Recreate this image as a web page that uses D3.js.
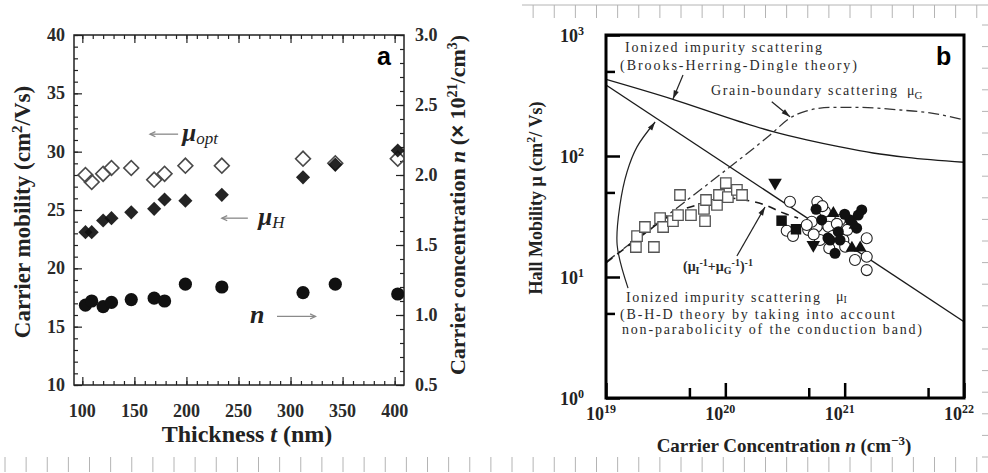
<!DOCTYPE html>
<html>
<head>
<meta charset="utf-8">
<script src="https://cdn.jsdelivr.net/npm/d3@7"></script>
<style>
body { margin: 0; background: #fff; }
svg { display: block; }
</style>
</head>
<body>
<script>
// ---- panel a : thickness series ----
const thickness = [103, 109, 120, 128, 147, 169, 179, 199, 234, 312, 343, 403];
const muOpt    = [28.0, 27.4, 28.1, 28.6, 28.6, 27.6, 28.1, 28.8, 28.8, 29.4, 29.0, 29.4];
const muH      = [23.1, 23.1, 24.1, 24.3, 24.8, 25.1, 25.9, 25.8, 26.3, 27.8, 28.9, 30.1];
const carrierN = [1.07, 1.10, 1.06, 1.09, 1.11, 1.12, 1.10, 1.22, 1.20, 1.16, 1.22, 1.15];
const thickTicks = [100, 150, 200, 250, 300, 350, 400];
const mobTicks = [10, 15, 20, 25, 30, 35, 40];
const concTicks = [0.5, 1.0, 1.5, 2.0, 2.5, 3.0];

// ---- panel b : [n (cm^-3), mobility] ----
const decadesX = [1e19, 1e20, 1e21, 1e22];
const decadesY = [1, 10, 100, 1000];
const bhdCurve = [[1e19, 430], [3.64e19, 294], [1.33e20, 192], [2.51e20, 159], [4.81e20, 136],
                  [9.15e20, 119], [1.73e21, 106], [3.31e21, 97.5], [1e22, 88.7]];
const impurityLine = [[1e19, 386], [1e22, 4.27]];
const grainCurve = [[1e19, 13.3], [3.64e19, 35.1], [1.09e20, 81.1], [2.37e20, 149], [3.48e20, 206],
                    [4.74e20, 235], [7.54e20, 252], [1.35e21, 252], [2.91e21, 240], [5.19e21, 227], [1e22, 199]];
const combinedCurve = [[1e19, 13.1], [1.93e19, 21.4], [3.64e19, 33.2], [6.13e19, 40.1], [1.03e20, 45.0],
                       [1.46e20, 43.3], [2.15e20, 39.4], [2.93e20, 34.4], [4.07e20, 30.7]];
const squaresOpen = [[1.78e19, 17.7], [2.52e19, 17.7], [1.82e19, 21.8], [2.12e19, 25.9], [2.84e19, 30.7],
                     [3.01e19, 25.9], [3.64e19, 29.0], [4.01e19, 32.5], [4.17e19, 47.6], [5.15e19, 32.5],
                     [6.62e19, 36.5], [6.76e19, 29.0], [6.89e19, 43.3], [8.51e19, 39.4], [8.85e19, 47.6],
                     [1.01e20, 59.8], [1.05e20, 45.8], [1.25e20, 52.4], [1.38e20, 47.6]];
const circlesOpen = [[3.48e20, 41.9], [3.27e20, 24.1], [5.90e20, 41.9], [6.84e20, 34.7], [4.95e20, 24.5],
                     [5.83e20, 26.0], [7.30e20, 26.0], [5.30e20, 28.6], [7.43e20, 17.3], [9.14e20, 29.6],
                     [9.75e20, 20.2], [1.01e21, 17.8], [1.53e21, 20.9], [1.22e21, 13.8], [1.53e21, 14.7],
                     [1.53e21, 11.4], [4.81e20, 26.9], [6.21e20, 20.2], [7.94e20, 21.8], [3.69e20, 21.8],
                     [6.5e20, 38.5], [1.05e21, 24.5], [8.6e20, 27.5], [5.5e20, 22.5]];
const circlesFilled = [[5.76e20, 36.3], [6.42e20, 29.6], [7.54e20, 20.2], [8.85e20, 23.7], [1.11e21, 29.6],
                       [1.39e21, 35.8], [1.30e21, 32.5], [8.30e20, 15.7], [1.26e21, 25.3], [9.14e20, 20.2],
                       [7.24e20, 21.0], [1.0e21, 33.0]];
const trianglesUp = [[8.04e20, 33.6], [1.22e21, 26.9], [1.15e21, 17.3], [1.35e21, 17.4]];
const trianglesDown = [[2.61e20, 60.2], [5.46e20, 18.4]];
const squaresFilled = [[2.96e20, 29.2], [3.91e20, 24.8]];

const width = 988;
const height = 473;
const serif = "'Liberation Serif', 'Times New Roman', serif";

const svg = d3.select("body").append("svg")
    .attr("width", width)
    .attr("height", height)
    .style("background", "#fff");

// ruler marks from the screenshot edges
const ruler = svg.append("g").attr("stroke", "#b4b4b4").attr("stroke-width", 1);
ruler.selectAll(".rb").data(d3.range(5, width, 21.125)).join("line")
    .attr("x1", d => d).attr("x2", d => d).attr("y1", 457).attr("y2", 472);
ruler.append("line").attr("x1", 522).attr("x2", width).attr("y1", 5).attr("y2", 5);
ruler.selectAll(".rt").data(d3.range(5 + 21.125 * 25, width, 21.125)).join("line")
    .attr("x1", d => d).attr("x2", d => d).attr("y1", 5).attr("y2", 18);
ruler.selectAll(".rr").data(d3.range(25, 465, 21.6)).join("line")
    .attr("x1", 982).attr("x2", width).attr("y1", d => d).attr("y2", d => d);

// ================= panel a =================
const xA = d3.scaleLinear().domain([92, 409]).range([74, 404]);
const yA = d3.scaleLinear().domain([10, 40]).range([385, 35]);
const yA2 = d3.scaleLinear().domain([0.5, 3.0]).range([385, 35]);

const ga = svg.append("g");

function inward(g, axis, tr) {
    g.append("g").attr("transform", tr).call(axis)
        .call(s => s.select(".domain").remove())
        .call(s => s.selectAll("line").attr("stroke", "#222").attr("stroke-width", 1.2));
}
// minor + major ticks, all sides, pointing inside
inward(ga, d3.axisBottom(xA).tickValues(d3.range(100, 401, 10)).tickSize(-4).tickFormat(""), "translate(0,385)");
inward(ga, d3.axisBottom(xA).tickValues(thickTicks).tickSize(-8).tickFormat(""), "translate(0,385)");
inward(ga, d3.axisTop(xA).tickValues(d3.range(100, 401, 10)).tickSize(-4).tickFormat(""), "translate(0,35)");
inward(ga, d3.axisTop(xA).tickValues(thickTicks).tickSize(-8).tickFormat(""), "translate(0,35)");
inward(ga, d3.axisLeft(yA).tickValues(d3.range(10, 40.1, 1)).tickSize(-4).tickFormat(""), "translate(74,0)");
inward(ga, d3.axisLeft(yA).tickValues(mobTicks).tickSize(-8).tickFormat(""), "translate(74,0)");
inward(ga, d3.axisRight(yA2).tickValues(d3.range(0.5, 3.01, 0.1)).tickSize(-4).tickFormat(""), "translate(404,0)");
inward(ga, d3.axisRight(yA2).tickValues(concTicks).tickSize(-8).tickFormat(""), "translate(404,0)");

ga.append("rect").attr("x", 74).attr("y", 35).attr("width", 330).attr("height", 350)
    .attr("fill", "none").attr("stroke", "#222").attr("stroke-width", 1.5);

// tick labels
const labA = ga.append("g").attr("font-family", serif).attr("font-weight", "bold")
    .attr("font-size", 18).attr("fill", "#2a2a2a");
labA.selectAll(".tx").data(thickTicks).join("text")
    .attr("x", d => xA(d)).attr("y", 417).attr("text-anchor", "middle").text(d => d);
labA.selectAll(".ty").data(mobTicks).join("text")
    .attr("x", 65).attr("y", d => yA(d) + 6).attr("text-anchor", "end").text(d => d);
labA.selectAll(".ty2").data(concTicks).join("text")
    .attr("x", 415).attr("y", d => yA2(d) + 6).text(d => d.toFixed(1));

// axis titles
const tA = ga.append("g").attr("font-family", serif).attr("font-weight", "bold").attr("fill", "#222");
const tx = tA.append("text").attr("x", 247).attr("y", 442).attr("text-anchor", "middle").attr("font-size", 24);
tx.append("tspan").text("Thickness ");
tx.append("tspan").attr("font-style", "italic").text("t");
tx.append("tspan").text(" (nm)");

const tyl = tA.append("text").attr("transform", "translate(30,212) rotate(-90)")
    .attr("text-anchor", "middle").attr("font-size", 23);
tyl.append("tspan").text("Carrier mobility (cm");
tyl.append("tspan").attr("dy", -8).attr("font-size", 15).text("2");
tyl.append("tspan").attr("dy", 8).text("/Vs)");

const tyr = tA.append("text").attr("transform", "translate(465,205) rotate(-90)")
    .attr("text-anchor", "middle").attr("font-size", 22);
tyr.append("tspan").text("Carrier concentration ");
tyr.append("tspan").attr("font-style", "italic").text("n");
tyr.append("tspan").text("  (");
tyr.append("tspan").attr("font-family", "'Liberation Sans', Arial, sans-serif").text("×");
tyr.append("tspan").text(" 10");
tyr.append("tspan").attr("dy", -8).attr("font-size", 14).text("21");
tyr.append("tspan").attr("dy", 8).text("/cm");
tyr.append("tspan").attr("dy", -8).attr("font-size", 14).text("3");
tyr.append("tspan").attr("dy", 8).text(")");

// markers
svg.append("clipPath").attr("id", "clipA").append("rect")
    .attr("x", 74).attr("y", 35).attr("width", 330).attr("height", 350);
const mk = ga.append("g").attr("clip-path", "url(#clipA)");
const diamond = d3.symbol().type(d3.symbolSquare).size(110);

mk.selectAll(".opt").data(thickness).join("path")
    .attr("d", diamond)
    .attr("transform", (d, i) => "translate(" + xA(d) + "," + yA(muOpt[i]) + ") rotate(45)")
    .attr("fill", "#fff").attr("fill-opacity", 0).attr("stroke", "#4a4a4a").attr("stroke-width", 1.6);
mk.selectAll(".mh").data(thickness).join("path")
    .attr("d", d3.symbol().type(d3.symbolSquare).size(100))
    .attr("transform", (d, i) => "translate(" + xA(d) + "," + yA(muH[i]) + ") rotate(45)")
    .attr("fill", "#111").attr("fill-opacity", 0.92);
mk.selectAll(".nc").data(thickness).join("circle")
    .attr("cx", d => xA(d)).attr("cy", (d, i) => yA2(carrierN[i])).attr("r", 6.6)
    .attr("fill", "#111");

// annotations panel a
function arrowA(g, x1, y1, x2, y2) {
    // arrow drawn from (x1,y1) to head at (x2,y2)
    const a = Math.atan2(y2 - y1, x2 - x1);
    g.append("line").attr("x1", x1).attr("y1", y1).attr("x2", x2).attr("y2", y2);
    g.append("path").attr("fill", "none")
        .attr("d", "M" + (x2 - 6 * Math.cos(a - 0.45)) + "," + (y2 - 6 * Math.sin(a - 0.45)) +
                   "L" + x2 + "," + y2 +
                   "L" + (x2 - 6 * Math.cos(a + 0.45)) + "," + (y2 - 6 * Math.sin(a + 0.45)));
}
const ar = ga.append("g").attr("stroke", "#8a8a8a").attr("stroke-width", 1.3);
arrowA(ar, xA(192), yA(31.5), xA(165), yA(31.5));
arrowA(ar, xA(259), yA(24.3), xA(234), yA(24.3));
arrowA(ar, xA(287), yA2(0.99), xA(324), yA2(0.99));

const ann = ga.append("g").attr("font-family", serif).attr("font-weight", "bold")
    .attr("font-style", "italic").attr("fill", "#222");
const t1 = ann.append("text").attr("x", xA(196)).attr("y", yA(30.9)).attr("font-size", 25);
t1.append("tspan").text("μ");
t1.append("tspan").attr("font-size", 17).attr("dy", 3).attr("font-weight", "normal").text("opt");
const t2 = ann.append("text").attr("x", xA(269)).attr("y", yA(23.7)).attr("font-size", 25);
t2.append("tspan").text("μ");
t2.append("tspan").attr("font-size", 17).attr("dy", 3).attr("font-weight", "normal").text("H");
ann.append("text").attr("x", xA(261)).attr("y", yA2(0.94)).attr("font-size", 26).text("n");

ga.append("text").attr("x", 377).attr("y", 65)
    .attr("font-family", "'Liberation Sans', Arial, sans-serif").attr("font-weight", "bold")
    .attr("font-size", 25).text("a");

// ================= panel b =================
const xB = d3.scaleLog().domain([1e19, 1e22]).range([606, 964]);
const yB = d3.scaleLog().domain([1, 1000]).range([398, 35]);
const gb = svg.append("g");

// ticks at 1 and 5 per decade, bottom and left only
const minX = [5e19, 5e20, 5e21];
const minY = [5, 50, 500];
function inwardB(axis, tr) {
    gb.append("g").attr("transform", tr).call(axis)
        .call(s => s.select(".domain").remove())
        .call(s => s.selectAll("line").attr("stroke", "#000").attr("stroke-width", 2.5));
}
inwardB(d3.axisBottom(xB).tickValues(decadesX).tickSize(-15).tickFormat(""), "translate(0,398)");
inwardB(d3.axisBottom(xB).tickValues(minX).tickSize(-10).tickFormat(""), "translate(0,398)");
inwardB(d3.axisLeft(yB).tickValues(decadesY).tickSize(-14).tickFormat(""), "translate(606,0)");
inwardB(d3.axisLeft(yB).tickValues(minY).tickSize(-9).tickFormat(""), "translate(606,0)");

const labB = gb.append("g").attr("font-family", serif).attr("font-weight", "bold")
    .attr("font-size", 18).attr("fill", "#222");
const lx = labB.selectAll(".lx").data(decadesX).join("text")
    .attr("x", d => xB(d) - 5).attr("y", 420).attr("text-anchor", "middle");
lx.append("tspan").text("10");
lx.append("tspan").attr("dy", -7).attr("font-size", 12).text(d => Math.round(Math.log10(d)));
const ly = labB.selectAll(".ly").data(decadesY).join("text")
    .attr("x", 584).attr("y", d => yB(d) + 7).attr("text-anchor", "end");
ly.append("tspan").text("10");
ly.append("tspan").attr("dy", -7).attr("font-size", 12).text(d => Math.round(Math.log10(d)));

const tB = gb.append("g").attr("font-family", serif).attr("font-weight", "bold").attr("fill", "#222");
const bx = tB.append("text").attr("x", 784).attr("y", 452).attr("text-anchor", "middle").attr("font-size", 19);
bx.append("tspan").text("Carrier Concentration  ");
bx.append("tspan").attr("font-style", "italic").text("n");
bx.append("tspan").text("  (cm");
bx.append("tspan").attr("dy", -7).attr("font-size", 13).text("−3");
bx.append("tspan").attr("dy", 7).text(")");
const by = tB.append("text").attr("transform", "translate(542,198) rotate(-90)")
    .attr("text-anchor", "middle").attr("font-size", 18);
by.append("tspan").text("Hall Mobility  μ  (cm");
by.append("tspan").attr("dy", -7).attr("font-size", 12).text("2");
by.append("tspan").attr("dy", 7).text("/ Vs)");

svg.append("clipPath").attr("id", "clipB").append("rect")
    .attr("x", 606).attr("y", 35).attr("width", 358).attr("height", 363);
const curves = gb.append("g").attr("clip-path", "url(#clipB)").attr("fill", "none").attr("stroke", "#1a1a1a");
const lineB = d3.line().x(d => xB(d[0])).y(d => yB(d[1])).curve(d3.curveMonotoneX);
curves.append("path").datum(bhdCurve).attr("d", lineB).attr("stroke-width", 1.4);
curves.append("path").datum(impurityLine).attr("d", lineB).attr("stroke-width", 1.4);
curves.append("path").datum(grainCurve).attr("d", lineB).attr("stroke-width", 1.3)
    .attr("stroke", "#333").attr("stroke-dasharray", "11,4,3,4");
curves.append("path").datum(combinedCurve).attr("d", lineB).attr("stroke-width", 1.6)
    .attr("stroke-dasharray", "8,6");

// data symbols
const sym = gb.append("g");
function place(d) { return "translate(" + xB(d[0]) + "," + yB(d[1]) + ")"; }
sym.selectAll(".sq").data(squaresOpen).join("path")
    .attr("d", d3.symbol().type(d3.symbolSquare).size(110)).attr("transform", place)
    .attr("fill", "#fff").attr("stroke", "#555").attr("stroke-width", 1.3);
sym.selectAll(".co").data(circlesOpen).join("circle")
    .attr("cx", d => xB(d[0])).attr("cy", d => yB(d[1])).attr("r", 5.5)
    .attr("fill", "#fff").attr("stroke", "#222").attr("stroke-width", 1.1);
sym.selectAll(".cf").data(circlesFilled).join("circle")
    .attr("cx", d => xB(d[0])).attr("cy", d => yB(d[1])).attr("r", 5.5)
    .attr("fill", "#111");
sym.selectAll(".tu").data(trianglesUp).join("path")
    .attr("d", d3.symbol().type(d3.symbolTriangle).size(70)).attr("transform", place)
    .attr("fill", "#111");
sym.selectAll(".td").data(trianglesDown).join("path")
    .attr("d", d3.symbol().type(d3.symbolTriangle).size(80))
    .attr("transform", d => place(d) + " rotate(180)").attr("fill", "#111");
sym.selectAll(".sf").data(squaresFilled).join("path")
    .attr("d", d3.symbol().type(d3.symbolSquare).size(110)).attr("transform", place)
    .attr("fill", "#111");

// frame
gb.append("rect").attr("x", 606).attr("y", 35).attr("width", 358).attr("height", 363)
    .attr("fill", "none").attr("stroke", "#000").attr("stroke-width", 3);

// arrows panel b
const arB = gb.append("g").attr("stroke", "#222").attr("stroke-width", 1.2).attr("fill", "none");
function headB(x2, y2, a) {
    arB.append("path").attr("fill", "#222").attr("stroke", "none")
        .attr("d", "M" + x2 + "," + y2 +
                   "L" + (x2 - 9 * Math.cos(a - 0.3)) + "," + (y2 - 9 * Math.sin(a - 0.3)) +
                   "L" + (x2 - 9 * Math.cos(a + 0.3)) + "," + (y2 - 9 * Math.sin(a + 0.3)) + "Z");
}
function arrowB(p1, p2) {
    const x1 = xB(p1[0]), y1 = yB(p1[1]), x2 = xB(p2[0]), y2 = yB(p2[1]);
    arB.append("line").attr("x1", x1).attr("y1", y1).attr("x2", x2).attr("y2", y2);
    headB(x2, y2, Math.atan2(y2 - y1, x2 - x1));
}
arrowB([4.42e19, 467], [3.64e19, 296]);
arrowB([2.45e20, 281], [3.48e20, 211]);
arrowB([1.25e20, 14.9], [2.15e20, 37.9]);
const arc = [[1.53e19, 8.1], [1.24e19, 18.4], [1.31e19, 39.4], [1.50e19, 73.8], [1.82e19, 119], [2.58e19, 191]];
arB.append("path").datum(arc)
    .attr("d", d3.line().x(d => xB(d[0])).y(d => yB(d[1])).curve(d3.curveCatmullRom));
headB(xB(2.58e19), yB(191), Math.atan2(yB(191) - yB(119), xB(2.58e19) - xB(1.82e19)));

// text notes panel b
const nb = gb.append("g").attr("font-family", serif).attr("font-size", 14).attr("fill", "#2a2a2a");
function note(x, y, s, len) {
    return nb.append("text").attr("x", x).attr("y", y).attr("textLength", len)
        .attr("lengthAdjust", "spacing").text(s);
}
note(625, 52, "Ionized impurity scattering", 197);
note(620, 70, "(Brooks-Herring-Dingle theory)", 237);
note(711, 95, "Grain-boundary scattering", 186);
const mg = nb.append("text").attr("x", 907).attr("y", 95);
mg.append("tspan").text("μ");
mg.append("tspan").attr("dy", 4).attr("font-size", 11).text("G");
note(626, 302, "Ionized impurity scattering", 194);
const mi = nb.append("text").attr("x", 836).attr("y", 301);
mi.append("tspan").text("μ");
mi.append("tspan").attr("dy", 2).attr("font-size", 10).text("I");
note(620, 319, "(B-H-D theory by taking into account", 275);
note(622, 334, "non-parabolicity of the conduction band)", 300);

const cb = nb.append("text").attr("x", 683).attr("y", 271).attr("font-size", 14).attr("font-weight", "bold");
cb.append("tspan").text("(μ");
cb.append("tspan").attr("dy", 3).attr("font-size", 10).text("I");
cb.append("tspan").attr("dy", -8).attr("font-size", 10).text("-1");
cb.append("tspan").attr("dy", 5).text("+μ");
cb.append("tspan").attr("dy", 3).attr("font-size", 10).text("G");
cb.append("tspan").attr("dy", -8).attr("font-size", 10).text("-1");
cb.append("tspan").attr("dy", 5).text(")");
cb.append("tspan").attr("dy", -5).attr("font-size", 10).text("-1");

gb.append("text").attr("x", 936).attr("y", 65)
    .attr("font-family", "'Liberation Sans', Arial, sans-serif").attr("font-weight", "bold")
    .attr("font-size", 25).text("b");
</script>
</body>
</html>
